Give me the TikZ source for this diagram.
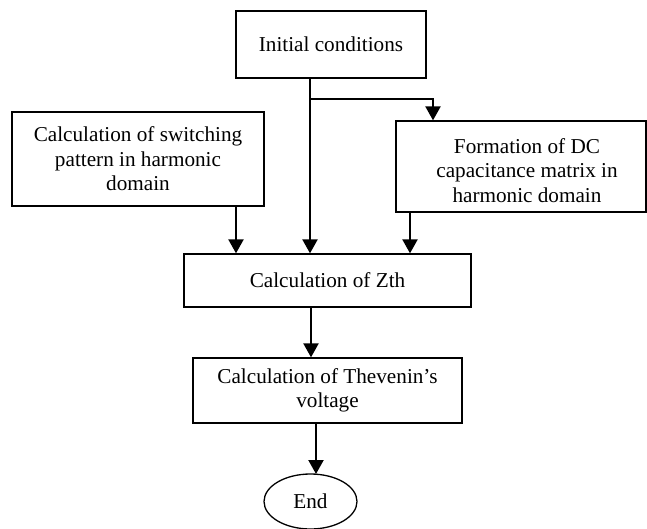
\documentclass[tikz,border=0pt]{standalone}
\usepackage{fontspec}
\setmainfont{Liberation Serif}
\usetikzlibrary{arrows.meta,calc,shapes.geometric}
\begin{document}
\begin{tikzpicture}[x=0.5pt,y=-0.5pt,
  box/.style={draw,line width=0.65pt,rectangle,inner sep=0pt,align=center,
    font=\fontsize{10.6pt}{12.2pt}\selectfont},
  endnode/.style={draw,line width=0.65pt,ellipse,inner sep=0pt,
    font=\fontsize{10.6pt}{12.2pt}\selectfont},
  flow/.style={line width=1.1pt,-{Triangle[length=7pt,width=7.5pt]}},
  plain/.style={line width=1.1pt}]
\useasboundingbox (0,0) rectangle (647,529);
\node[box,minimum width=95pt,minimum height=33.5pt] (init) at (331,44.5) {Initial conditions};
\node[box,minimum width=126pt,minimum height=47pt] (left) at (138,159)
  {Calculation of switching\\pattern in harmonic\\domain};
\node[box,minimum width=125pt,minimum height=45.5pt,
  label={[align=center,font=\fontsize{10.6pt}{12.2pt}\selectfont,xshift=3pt,yshift=-2pt]center:Formation of DC\\capacitance matrix in\\harmonic domain}] (right) at (521,166.5) {};
\node[box,minimum width=143.5pt,minimum height=26.5pt] (zth) at (327.5,280.5) {Calculation of Zth};
\node[box,minimum width=134.5pt,minimum height=32.5pt] (thev) at (327.5,390.5)
  {Calculation of Thevenin's\\voltage};
\node[endnode,minimum width=46.5pt,minimum height=27.5pt] (end) at (310.5,501.5) {End};
% connectors
\coordinate (m) at (310,99);
\coordinate (b) at (433,99);
\coordinate (la) at (236,0);
\coordinate (ra) at (410,0);
\coordinate (za) at (311,0);
\coordinate (ea) at (316,474);
\draw[flow] (init.south -| m) -- (zth.north -| m);
\draw[flow] (m) -- (b) -- (right.north -| b);
\draw[flow] (left.south -| la) -- (zth.north -| la);
\draw[flow] (right.south -| ra) -- (zth.north -| ra);
\draw[flow] (zth.south -| za) -- (thev.north -| za);
\draw[flow] (thev.south -| ea) -- (ea);
\end{tikzpicture}
\end{document}
